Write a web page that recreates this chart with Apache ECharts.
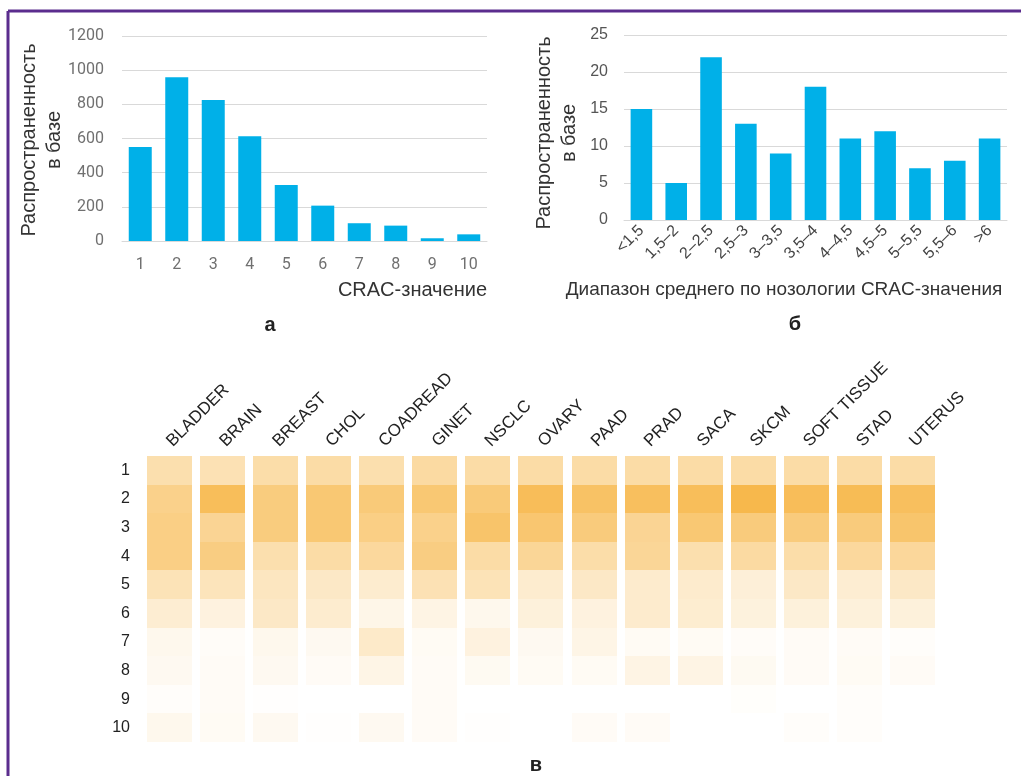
<!DOCTYPE html>
<html>
<head>
<meta charset="utf-8">
<script src="https://cdn.jsdelivr.net/npm/echarts@6/dist/echarts.min.js"></script>
<style>html,body{margin:0;padding:0;background:#fff}#c{width:1021px;height:776px}</style>
</head>
<body>
<div id="c"></div>
<script>
// ---- Panel a ----
const cracValues = ['1','2','3','4','5','6','7','8','9','10'];
const cracCounts = [550, 958, 825, 613, 328, 207, 104, 90, 16, 39];

// ---- Panel б ----
const rangeLabels = ['<1,5','1,5–2','2–2,5','2,5–3','3–3,5','3,5–4','4–4,5','4,5–5','5–5,5','5,5–6','>6'];
const rangeCounts = [15, 5, 22, 13, 9, 18, 11, 12, 7, 8, 11];

// ---- Panel в ----
const tissues = ['BLADDER','BRAIN','BREAST','CHOL','COADREAD','GINET','NSCLC','OVARY','PAAD','PRAD','SACA','SKCM','SOFT TISSUE','STAD','UTERUS'];
const heatRows = ['1','2','3','4','5','6','7','8','9','10'];
// relative share (0..1 colour intensity) of each CRAC value per tissue, rows 1..10
const BLADDER    = [0.45,0.65,0.68,0.68,0.40,0.25,0.10,0.08,0.03,0.10];
const BRAIN      = [0.42,0.92,0.60,0.70,0.38,0.18,0.04,0.05,0.05,0.06];
const BREAST     = [0.48,0.72,0.72,0.45,0.35,0.32,0.10,0.08,0.01,0.08];
const CHOL       = [0.50,0.78,0.78,0.50,0.32,0.27,0.08,0.05,0.00,0.01];
const COADREAD   = [0.45,0.75,0.68,0.55,0.27,0.13,0.30,0.14,0.00,0.08];
const GINET      = [0.52,0.78,0.65,0.70,0.42,0.15,0.06,0.05,0.05,0.05];
const NSCLC      = [0.50,0.75,0.83,0.50,0.40,0.10,0.18,0.07,0.00,0.01];
const OVARY      = [0.50,0.93,0.80,0.58,0.27,0.20,0.08,0.06,0.00,0.00];
const PAAD       = [0.50,0.86,0.73,0.48,0.32,0.18,0.14,0.06,0.00,0.05];
const PRAD       = [0.50,0.90,0.60,0.58,0.28,0.28,0.06,0.15,0.00,0.05];
const SACA       = [0.50,0.92,0.78,0.45,0.28,0.26,0.06,0.15,0.00,0.00];
const SKCM       = [0.50,1.00,0.73,0.52,0.22,0.19,0.04,0.07,0.02,0.00];
const SOFT_TISSUE= [0.50,0.93,0.73,0.48,0.32,0.20,0.05,0.05,0.00,0.03];
const STAD       = [0.50,0.95,0.73,0.55,0.25,0.20,0.05,0.06,0.03,0.03];
const UTERUS     = [0.50,0.90,0.82,0.56,0.32,0.20,0.03,0.05,0.00,0.00];
const heatColumns = [BLADDER,BRAIN,BREAST,CHOL,COADREAD,GINET,NSCLC,OVARY,PAAD,PRAD,SACA,SKCM,SOFT_TISSUE,STAD,UTERUS];

const heatData = [];
heatColumns.forEach((col, xi) => col.forEach((v, yi) => { if (v > 0) heatData.push([xi, yi, v]); }));

const chart = echarts.init(document.getElementById('c'), null, {renderer: 'canvas'});
const barColor = '#00b0e8';
const gridLine = '#d9d9d9';
const frameColor = '#5b2d8e';

const option = {
  backgroundColor: '#ffffff',
  animation: false,
  grid: [
    {left: 122, top: 36, width: 365, height: 205},
    {left: 624, top: 35, width: 383, height: 185},
    {left: 143, top: 456, width: 796, height: 286}
  ],
  xAxis: [
    {gridIndex: 0, type: 'category', data: cracValues,
     axisLine: {lineStyle: {color: gridLine}}, axisTick: {show: false},
     axisLabel: {margin: 16, fontFamily: 'Roboto', fontSize: 16, color: '#707070'}},
    {gridIndex: 1, type: 'category', data: rangeLabels,
     axisLine: {lineStyle: {color: gridLine}}, axisTick: {show: false},
     axisLabel: {margin: 8, rotate: 45, fontFamily: 'Liberation Sans', fontSize: 16, color: '#444'}},
    {gridIndex: 2, type: 'category', data: tissues, position: 'top',
     axisLine: {show: false}, axisTick: {show: false},
     axisLabel: {margin: 12, rotate: -45, fontFamily: 'Liberation Sans', fontSize: 17, color: '#222'}}
  ],
  yAxis: [
    {gridIndex: 0, type: 'value', min: 0, max: 1200, interval: 200,
     axisLine: {show: false}, axisTick: {show: false},
     splitLine: {lineStyle: {color: gridLine}},
     axisLabel: {margin: 18, fontFamily: 'Roboto', fontSize: 16, color: '#707070',
                 formatter: v => String(v)}},
    {gridIndex: 1, type: 'value', min: 0, max: 25, interval: 5,
     axisLine: {show: false}, axisTick: {show: false},
     splitLine: {lineStyle: {color: gridLine}},
     axisLabel: {margin: 16, fontFamily: 'Liberation Sans', fontSize: 16, color: '#555'}},
    {gridIndex: 2, type: 'category', data: heatRows, inverse: true,
     axisLine: {show: false}, axisTick: {show: false}, splitLine: {show: false},
     axisLabel: {margin: 13, fontFamily: 'Liberation Sans', fontSize: 16, color: '#222'}}
  ],
  visualMap: {
    show: false, type: 'continuous', min: 0, max: 1, dimension: 2, seriesIndex: 2,
    inRange: {color: ['#ffffff', '#f7b84c']}
  },
  series: [
    {type: 'bar', xAxisIndex: 0, yAxisIndex: 0, data: cracCounts, barWidth: '63%',
     itemStyle: {color: barColor}},
    {type: 'bar', xAxisIndex: 1, yAxisIndex: 1, data: rangeCounts, barWidth: '62%',
     itemStyle: {color: barColor}},
    {type: 'custom', xAxisIndex: 2, yAxisIndex: 2, data: heatData,
     encode: {x: 0, y: 1},
     renderItem: function (params, api) {
       const c = api.coord([api.value(0), api.value(1)]);
       const s = api.size([1, 1]);
       const w = s[0] * 0.85;
       const y0 = Math.round(c[1] - s[1] / 2), y1 = Math.round(c[1] + s[1] / 2);
       return {type: 'rect',
               shape: {x: Math.round(c[0] - w / 2), y: y0, width: Math.round(w), height: y1 - y0},
               style: {fill: api.visual('color')}};
     }}
  ],
  graphic: [
    {type: 'line', shape: {x1: 8, y1: 11, x2: 1021, y2: 11}, style: {stroke: frameColor, lineWidth: 3}},
    {type: 'line', shape: {x1: 8, y1: 11, x2: 8, y2: 776}, style: {stroke: frameColor, lineWidth: 3}},
    {type: 'text', x: 42, y: 140, rotation: Math.PI / 2,
     style: {text: 'Распространенность\nв базе', align: 'center', verticalAlign: 'middle',
             font: '20px "Liberation Sans"', fill: '#333', lineHeight: 25}},
    {type: 'text', x: 557, y: 133, rotation: Math.PI / 2,
     style: {text: 'Распространенность\nв базе', align: 'center', verticalAlign: 'middle',
             font: '20px "Liberation Sans"', fill: '#333', lineHeight: 25}},
    {type: 'text', x: 487, y: 290,
     style: {text: 'CRAC-значение', align: 'right', verticalAlign: 'middle',
             font: '20px "Liberation Sans"', fill: '#333'}},
    {type: 'text', x: 784, y: 290,
     style: {text: 'Диапазон среднего по нозологии CRAC-значения', align: 'center', verticalAlign: 'middle',
             font: '19px "Liberation Sans"', fill: '#333'}},
    {type: 'text', x: 270, y: 325,
     style: {text: 'а', align: 'center', verticalAlign: 'middle', font: 'bold 20px "Liberation Sans"', fill: '#222'}},
    {type: 'text', x: 795, y: 324,
     style: {text: 'б', align: 'center', verticalAlign: 'middle', font: 'bold 20px "Liberation Sans"', fill: '#222'}},
    {type: 'text', x: 536, y: 765,
     style: {text: 'в', align: 'center', verticalAlign: 'middle', font: 'bold 20px "Liberation Sans"', fill: '#222'}}
  ]
};
chart.setOption(option);
</script>
</body>
</html>
